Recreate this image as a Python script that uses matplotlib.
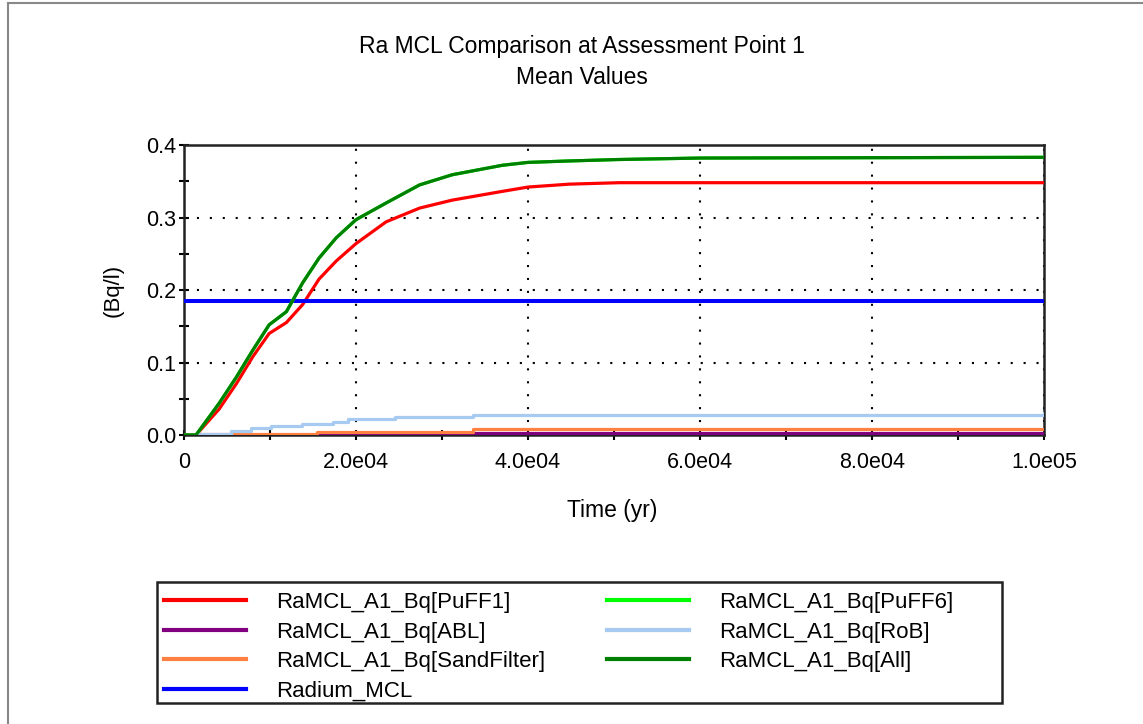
import matplotlib
matplotlib.use("Agg")
import matplotlib.pyplot as plt
from matplotlib.ticker import MultipleLocator
from matplotlib.lines import Line2D
from matplotlib.patches import Rectangle

plt.rcParams['font.family'] = ['Liberation Sans', 'DejaVu Sans']

title1 = "Ra MCL Comparison at Assessment Point 1"
title2 = "Mean Values"
xlabel = "Time (yr)"
ylabel = "(Bq/l)"

# Data
t_main = [0, 1400, 4100, 6100, 8000, 9900, 11900, 13800, 15700, 17700, 20000,
          23500, 27400, 31200, 37000, 40000, 44800, 50600, 60000, 100000]
puff1 = [0, 0, 0.036, 0.071, 0.108, 0.140, 0.155, 0.180, 0.215, 0.240, 0.264,
         0.294, 0.313, 0.324, 0.336, 0.342, 0.346, 0.348, 0.348, 0.348]
all_ = [0, 0, 0.044, 0.080, 0.117, 0.152, 0.170, 0.210, 0.244, 0.272, 0.297,
        0.320, 0.345, 0.359, 0.372, 0.376, 0.378, 0.380, 0.382, 0.383]
puff6 = all_

t_rob = [0, 1600, 5500, 7800, 10100, 13700, 17300, 19100, 24500, 33600, 100000]
rob = [0, 0.002, 0.005, 0.009, 0.012, 0.0155, 0.0186, 0.022, 0.025, 0.0274, 0.030]

t_sand = [0, 1500, 15500, 33600, 100000]
sand = [0, 0.002, 0.0045, 0.008, 0.008]

t_abl = [0, 15500, 33600, 100000]
abl = [0, 0.0007, 0.0022, 0.0022]

t_mcl = [0, 100000]
mcl = [0.185, 0.185]

xticks = [0, 20000, 40000, 60000, 80000, 100000]
xticklabels = ["0", "2.0e04", "4.0e04", "6.0e04", "8.0e04", "1.0e05"]
yticks = [0.0, 0.1, 0.2, 0.3, 0.4]
yticklabels = ["0.0", "0.1", "0.2", "0.3", "0.4"]

labels = ["RaMCL_A1_Bq[PuFF1]", "RaMCL_A1_Bq[ABL]", "RaMCL_A1_Bq[SandFilter]",
          "Radium_MCL", "RaMCL_A1_Bq[PuFF6]", "RaMCL_A1_Bq[RoB]", "RaMCL_A1_Bq[All]"]
colors = ["#ff0000", "#800080", "#ff8040", "#0000ff", "#00ff00", "#a6caf0", "#008000"]

W, H = 1143, 724
fig = plt.figure(figsize=(W / 100, H / 100), dpi=100)
ax = fig.add_axes([184 / W, 1 - 435 / H, (1044 - 184) / W, (435 - 145) / H])

lw = 2.3
ax.plot(t_main, puff1, color=colors[0], lw=lw, zorder=3)
ax.step(t_abl, abl, where='post', color=colors[1], lw=lw, zorder=3)
ax.step(t_sand, sand, where='post', color=colors[2], lw=lw, zorder=3)
ax.plot(t_mcl, mcl, color=colors[3], lw=lw + 0.6, zorder=3)
ax.plot(t_main, puff6, color=colors[4], lw=lw, zorder=3)
ax.step(t_rob, rob, where='post', color=colors[5], lw=lw, zorder=3)
ax.plot(t_main, all_, color=colors[6], lw=lw, zorder=3)

ax.set_xlim(0, 100000)
ax.set_ylim(0, 0.4)
ax.set_xticks(xticks)
ax.set_xticklabels(xticklabels)
ax.set_yticks(yticks)
ax.set_yticklabels(yticklabels)
ax.xaxis.set_minor_locator(MultipleLocator(10000))
ax.yaxis.set_minor_locator(MultipleLocator(0.05))
ax.tick_params(which='both', direction='inout', length=6.7, width=1.5, labelsize=15.5, colors='black')
ax.tick_params(axis='x', pad=9)
ax.tick_params(axis='y', pad=2)
ax.grid(True, which='major', color='black', linestyle=(0, (1, 5.2)), linewidth=1.5)
for s in ax.spines.values():
    s.set_linewidth(1.8)
    s.set_color('#222222')

fig.text(582 / W, 1 - 47 / H, title1, ha='center', va='center', fontsize=16.5)
fig.text(582 / W, 1 - 77 / H, title2, ha='center', va='center', fontsize=16.5)
fig.text(612 / W, 1 - 510 / H, xlabel, ha='center', va='center', fontsize=16.5)
fig.text(113 / W, 1 - 290 / H, ylabel, ha='center', va='center', fontsize=16, rotation=90)

handles = [Line2D([], [], color=c, lw=3) for c in colors]
leg = fig.legend(handles, labels, ncol=2, loc='upper left',
                 bbox_to_anchor=(154 / W, 1 - 582 / H), bbox_transform=fig.transFigure,
                 frameon=False, fontsize=16,
                 handlelength=3.7, handletextpad=1.35, columnspacing=2.75,
                 labelspacing=0.38, borderpad=0.46, borderaxespad=0)
# legend frame box
fig.add_artist(Rectangle((157 / W, 1 - 703 / H), (1002 - 157) / W, (703 - 582) / H,
                         transform=fig.transFigure, fill=False, edgecolor='#222222', lw=1.8))

# outer panel frame lines (top and left)
fig.add_artist(Line2D([8 / W, 8 / W], [0, 1 - 3 / H], transform=fig.transFigure, color='#888888', lw=1.5))
fig.add_artist(Line2D([8 / W, 1], [1 - 3 / H, 1 - 3 / H], transform=fig.transFigure, color='#888888', lw=1.5))

fig.savefig("out.png", dpi=100)
